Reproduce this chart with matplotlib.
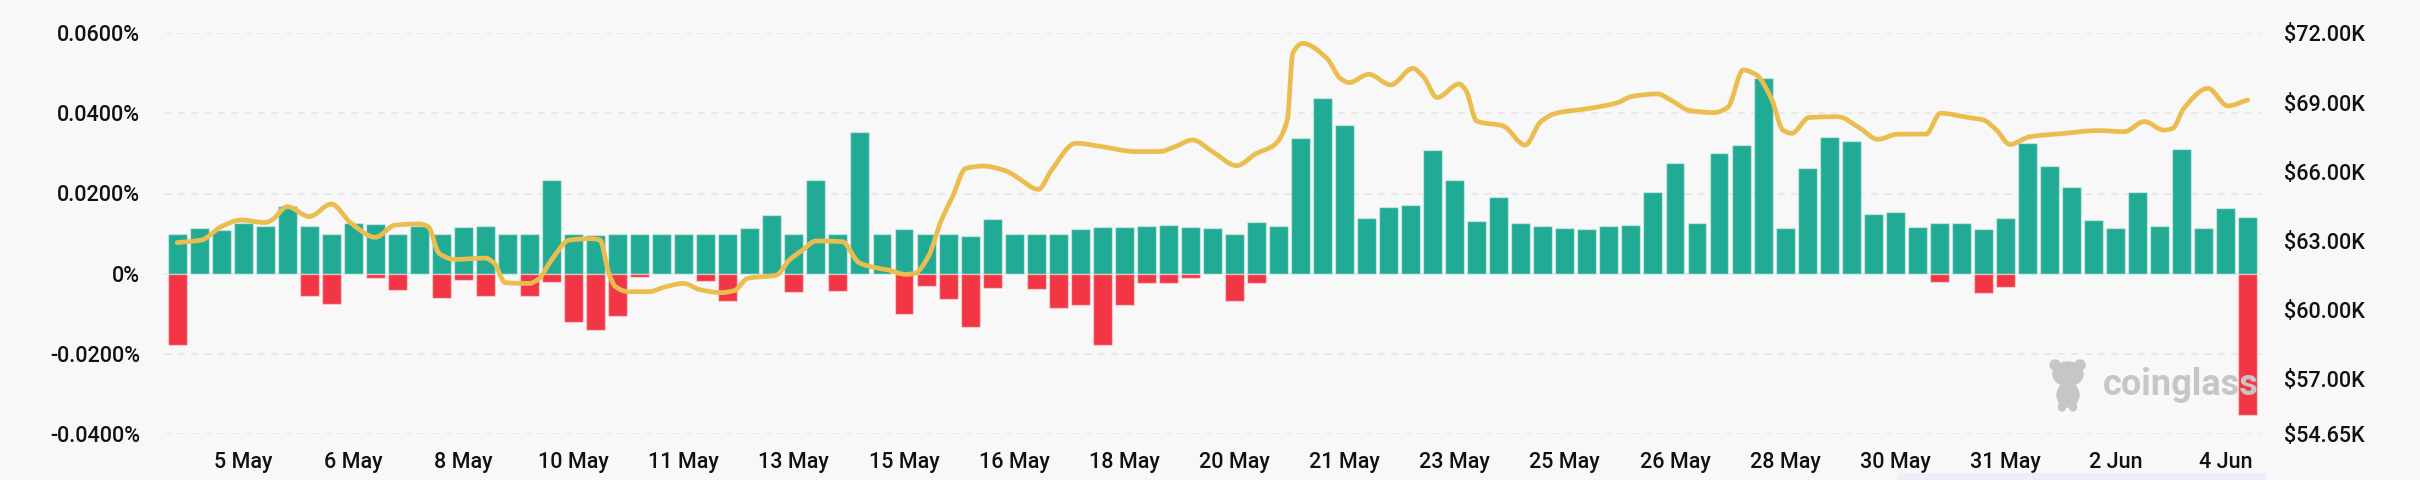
import matplotlib
matplotlib.use("Agg")
import matplotlib.pyplot as plt
from matplotlib.patches import Ellipse, Rectangle, PathPatch
from matplotlib.path import Path
import numpy as np

plt.rcParams['font.family'] = ['Roboto', 'DejaVu Sans']

# funding rate (%) per 8h slot, 4 May 00:00 .. 4 Jun 08:00
pos_rate = [0.0100, 0.0113, 0.0109, 0.0127, 0.0118, 0.0169, 0.0118, 0.0100, 0.0126, 0.0123,
            0.0100, 0.0119, 0.0100, 0.0117, 0.0119, 0.0100, 0.0100, 0.0233, 0.0100, 0.0096,
            0.0100, 0.0100, 0.0100, 0.0100, 0.0100, 0.0100, 0.0115, 0.0147, 0.0100, 0.0235,
            0.0100, 0.0355, 0.0100, 0.0111, 0.0100, 0.0100, 0.0093, 0.0137, 0.0100, 0.0100,
            0.0100, 0.0111, 0.0116, 0.0116, 0.0119, 0.0122, 0.0116, 0.0114, 0.0100, 0.0129,
            0.0120, 0.0339, 0.0438, 0.0372, 0.0140, 0.0167, 0.0172, 0.0310, 0.0233, 0.0132,
            0.0192, 0.0127, 0.0119, 0.0113, 0.0112, 0.0118, 0.0122, 0.0204, 0.0276, 0.0127,
            0.0302, 0.0321, 0.0489, 0.0114, 0.0265, 0.0342, 0.0330, 0.0149, 0.0153, 0.0116,
            0.0126, 0.0127, 0.0112, 0.0139, 0.0325, 0.0269, 0.0216, 0.0135, 0.0113, 0.0205,
            0.0118, 0.0311, 0.0113, 0.0164, 0.0142]
neg_rate = [-0.0178, 0, 0, 0, 0, 0, -0.0055, -0.0075, 0, -0.0011,
            -0.0040, 0, -0.0060, -0.0016, -0.0055, -0.0002, -0.0057, -0.0020, -0.0121, -0.0142,
            -0.0107, -0.0009, 0, 0, -0.0018, -0.0069, 0, 0, -0.0046, 0,
            -0.0044, 0, 0, -0.0102, -0.0030, -0.0063, -0.0133, -0.0035, 0, -0.0039,
            -0.0087, -0.0079, -0.0178, -0.0078, -0.0023, -0.0023, -0.0012, 0, -0.0069, -0.0023,
            0, 0, 0, 0, 0, 0, 0, 0, 0, 0,
            0, 0, 0, 0, 0, 0, 0, 0, 0, 0,
            0, 0, 0, 0, 0, 0, 0, 0, 0, 0,
            -0.0021, 0, -0.0049, -0.0033, 0, 0, 0, 0, 0, 0,
            0, 0, 0, 0, -0.0354]

# BTC price ($K), x in 8h-slot units
price_x = [0, 1.1, 2.0, 2.9, 4.0, 4.3, 5.0, 6.0, 7.0, 7.9, 9.0, 9.9, 11.0, 11.4, 11.9, 12.6,
           14.0, 14.4, 14.9, 16.0, 16.4, 17.0, 17.8, 18.8, 19.2, 19.6, 19.9, 20.5, 21.4, 22.2,
           23.0, 23.7, 24.7, 25.3, 25.9, 27.2, 27.8, 28.4, 29.0, 30.2, 30.96, 31.6, 32.3, 33.1,
           33.5, 34.1, 34.7, 35.2, 35.8, 36.6, 37.5, 37.9, 38.2, 39.1, 39.7, 40.8, 42.0, 43.5,
           44.6, 45.3, 46.1, 47.0, 48.1, 49.0, 49.8, 50.4, 50.65, 51.1, 52.2, 52.8, 53.2, 54.1,
           55.1, 56.1, 56.6, 57.2, 58.2, 58.5, 59.0, 60.2, 61.2, 61.9, 62.6, 64.1, 65.4, 66.0,
           67.2, 67.8, 68.7, 69.8, 70.4, 71.1, 71.7, 72.4, 72.9, 73.3, 74.1, 75.4, 76.4, 77.2,
           78.1, 79.4, 80.05, 81.3, 82.0, 82.6, 83.2, 84.1, 85.7, 87.2, 88.4, 89.3, 90.2, 90.6,
           91.1, 92.2, 93.1, 94.0]
price = [62.93, 63.04, 63.62, 63.91, 63.80, 63.91, 64.49, 64.06, 64.60, 63.77, 63.16, 63.69,
         63.74, 63.62, 62.46, 62.20, 62.26, 62.03, 61.19, 61.16, 61.34, 62.18, 63.04, 63.10,
         63.04, 61.60, 61.02, 60.80, 60.80, 61.02, 61.16, 60.90, 60.76, 60.85, 61.38, 61.52,
         62.18, 62.61, 63.00, 62.97, 62.06, 61.86, 61.74, 61.55, 61.60, 62.32, 63.91, 64.92,
         66.15, 66.25, 66.08, 65.91, 65.72, 65.24, 66.08, 67.24, 67.09, 66.88, 66.88, 67.09,
         67.38, 66.88, 66.27, 66.80, 67.16, 68.25, 71.14, 71.57, 70.92, 70.06, 69.87, 70.23,
         69.77, 70.49, 70.10, 69.22, 69.81, 69.55, 68.20, 67.99, 67.16, 68.17, 68.54, 68.75,
         69.00, 69.26, 69.38, 69.12, 68.65, 68.57, 68.80, 70.42, 70.20, 69.12, 67.81, 67.67,
         68.36, 68.39, 67.89, 67.41, 67.63, 67.64, 68.54, 68.36, 68.25, 67.81, 67.19, 67.52,
         67.67, 67.79, 67.74, 68.18, 67.81, 67.89, 68.75, 69.62, 68.86, 69.12]

tick_pos = [3, 8, 13, 18, 23, 28, 33, 38, 43, 48, 53, 58, 63, 68, 73, 78, 83, 88, 93]
tick_labels = ['5 May', '6 May', '8 May', '10 May', '11 May', '13 May', '15 May', '16 May',
               '18 May', '20 May', '21 May', '23 May', '25 May', '26 May', '28 May', '30 May',
               '31 May', '2 Jun', '4 Jun']
left_ticks = [-0.04, -0.02, 0, 0.02, 0.04, 0.06]
left_labels = ['-0.0400%', '-0.0200%', '0%', '0.0200%', '0.0400%', '0.0600%']
right_ticks = [54.65, 57, 60, 63, 66, 69, 72]
right_labels = ['$54.65K', '$57.00K', '$60.00K', '$63.00K', '$66.00K', '$69.00K', '$72.00K']

BG = '#f8f8f8'
GREEN = '#22ab94'
RED = '#f23645'
GOLD = '#ebbd4e'
TXT = '#111111'


def smooth_path(xs, ys):
    """Bezier path through the data points (monotone-cubic tangents), drawn as a smooth line."""
    xs = np.asarray(xs, float)
    ys = np.asarray(ys, float)
    h = np.diff(xs)
    d = np.diff(ys) / h
    m = np.zeros_like(ys)
    m[0], m[-1] = d[0], d[-1]
    for i in range(1, len(ys) - 1):
        if d[i - 1] * d[i] <= 0:
            m[i] = 0.0
        else:
            w1 = 2 * h[i] + h[i - 1]
            w2 = h[i] + 2 * h[i - 1]
            m[i] = (w1 + w2) / (w1 / d[i - 1] + w2 / d[i])
    verts = [(xs[0], ys[0])]
    codes = [Path.MOVETO]
    for i in range(len(xs) - 1):
        verts += [(xs[i] + h[i] / 3, ys[i] + m[i] * h[i] / 3),
                  (xs[i + 1] - h[i] / 3, ys[i + 1] - m[i + 1] * h[i] / 3),
                  (xs[i + 1], ys[i + 1])]
        codes += [Path.CURVE4] * 3
    return Path(verts, codes)


fig = plt.figure(figsize=(24.2, 4.8), dpi=100, facecolor=BG)
ax = fig.add_axes([165 / 2420, 46.5 / 480, 2097 / 2420, 400 / 480])
ax.set_facecolor(BG)

x = np.arange(len(pos_rate))
ax.bar(x, pos_rate, width=0.86, color=GREEN, edgecolor=(1, 1, 1, 0.45), linewidth=1.0, zorder=2)
ax.bar(x, neg_rate, width=0.86, color=RED, edgecolor=(1, 1, 1, 0.45), linewidth=1.0, zorder=2)

ax.set_xlim(-0.55, 94.65)
ax.set_ylim(-0.04, 0.06)
ax.set_yticks(left_ticks)
ax.set_yticklabels(left_labels)
ax.set_xticks(tick_pos)
ax.set_xticklabels(tick_labels)
ax.grid(axis='y', color='#e6e6e6', linestyle=(0, (4, 4)), linewidth=1.2, zorder=0)
ax.grid(axis='x', visible=False)
ax.tick_params(axis='y', length=0, pad=18, labelsize=15.5, labelcolor=TXT)
ax.tick_params(axis='x', length=0, pad=13, labelsize=15.5, labelcolor=TXT)
for lab in ax.get_xticklabels() + ax.get_yticklabels():
    lab.set_fontweight('medium')
for s in ax.spines.values():
    s.set_visible(False)

ax2 = ax.twinx()
ax2.add_patch(PathPatch(smooth_path(price_x, price), facecolor='none', edgecolor=GOLD,
                        linewidth=3.4, capstyle='round', joinstyle='round', zorder=3))
ax2.set_ylim(54.65, 72)
ax2.set_yticks(right_ticks)
ax2.set_yticklabels(right_labels)
ax2.tick_params(axis='y', length=0, pad=16, labelsize=15.5, labelcolor=TXT)
for lab in ax2.get_yticklabels():
    lab.set_fontweight('medium')
for s in ax2.spines.values():
    s.set_visible(False)

# watermark
fig.text(2103 / 2420, 1 - 385 / 480, 'coinglass', fontsize=26, fontweight='bold',
         color='#c6c6c6', va='center', ha='left', family=['Roboto', 'DejaVu Sans'])
wm = fig.add_axes([2042 / 2420, 1 - 412 / 480, 52 / 2420, 56 / 480])
wm.set_xlim(0, 52)
wm.set_ylim(0, 56)
wm.axis('off')
wm.add_patch(Ellipse((26, 38), 30, 24, color='#c6c6c6'))
wm.add_patch(Ellipse((13, 47), 10, 10, color='#c6c6c6'))
wm.add_patch(Ellipse((38, 47), 10, 10, color='#c6c6c6'))
wm.add_patch(Ellipse((26, 17), 22, 24, color='#c6c6c6'))
wm.add_patch(Ellipse((20, 5), 7, 8, color='#c6c6c6'))
wm.add_patch(Ellipse((31, 5), 7, 8, color='#c6c6c6'))

# bottom slider strip
fig.patches.append(Rectangle((1898 / 2420, 0), 367 / 2420, 7 / 480, transform=fig.transFigure,
                             color='#eceef9', zorder=0))

fig.savefig('out.png', dpi=100, facecolor=BG)
